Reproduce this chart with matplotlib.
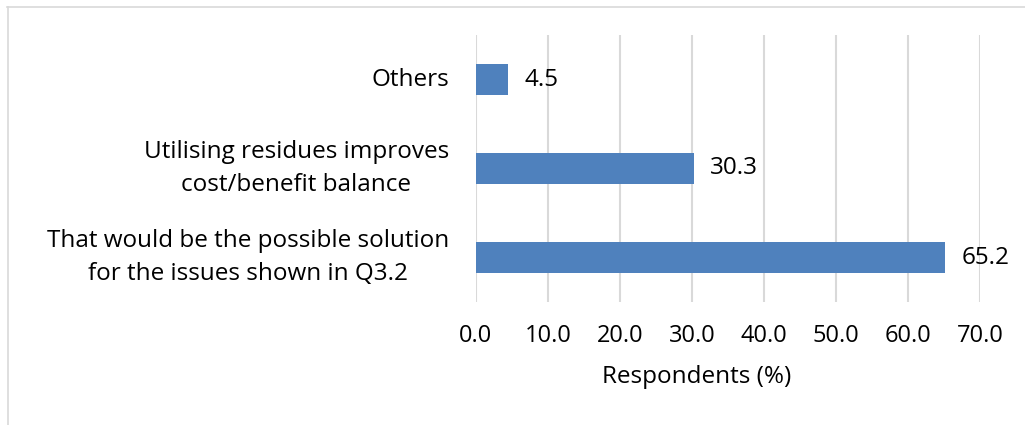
import matplotlib
matplotlib.use("Agg")
import matplotlib.pyplot as plt
from matplotlib.lines import Line2D

plt.rcParams['font.family'] = ['Open Sans', 'DejaVu Sans']

# Survey answers (bottom to top as drawn)
categories = [
    "That would be the possible solution\nfor the issues shown in Q3.2",
    "Utilising residues improves\ncost/benefit balance",
    "Others",
]
values = [65.2, 30.3, 4.5]
xticks = [0, 10, 20, 30, 40, 50, 60, 70]
xlabel = "Respondents (%)"

FS = 17.5

W, H = 1025, 425
fig = plt.figure(figsize=(W / 100, H / 100), dpi=100)
ax = fig.add_axes([476 / W, 1 - 302 / H, (980 - 476) / W, (302 - 35) / H])

pos = list(range(len(categories)))
ax.barh(pos, values, height=0.35, color="#4F81BD", zorder=3)

for p, v in zip(pos, values):
    ax.annotate(f"{v:.1f}", xy=(v, p), xytext=(11.5, 0), textcoords="offset points",
                ha="left", va="center", fontsize=FS, color="black")

ax.set_xlim(0, 70)
ax.set_ylim(-0.5, len(categories) - 0.5)
ax.set_xticks(xticks)
ax.set_xticklabels([f"{t:.1f}" for t in xticks], fontsize=17)
ax.set_yticks(pos)
ax.set_yticklabels(categories, fontsize=FS, multialignment="center", linespacing=1.45)
ax.tick_params(axis="both", length=0)
ax.tick_params(axis="x", pad=15.5)
ax.tick_params(axis="y", pad=19.4)
ax.grid(axis="x", color="#D9D9D9", linewidth=1.5, zorder=0)
for s in ax.spines.values():
    s.set_visible(False)

# centre the category labels on their bars
for lbl in ax.get_yticklabels():
    lbl.set_va("center")

fig.text(697 / W, 1 - 377 / H, xlabel, ha="center", va="center", fontsize=FS)

# light frame around the chart area
fig.add_artist(Line2D([7 / W, 1.0], [1 - 6.5 / H, 1 - 6.5 / H], color="#D9D9D9", lw=1.2,
                      transform=fig.transFigure))
fig.add_artist(Line2D([7.5 / W, 7.5 / W], [0, 1 - 6.5 / H], color="#D9D9D9", lw=1.2,
                      transform=fig.transFigure))

fig.savefig("out.png", dpi=100)
